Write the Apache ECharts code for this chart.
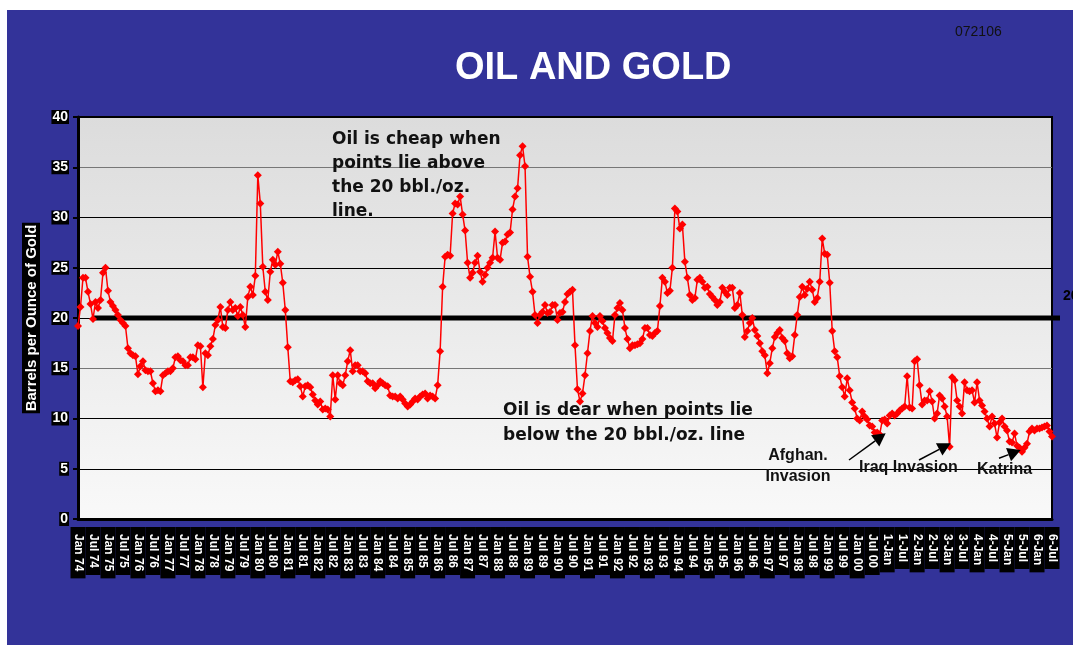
<!DOCTYPE html>
<html>
<head>
<meta charset="utf-8">
<title>Oil and Gold</title>
<script src="https://cdn.jsdelivr.net/npm/echarts@6/dist/echarts.min.js"></script>
<style>
  html, body { margin: 0; padding: 0; background: #ffffff; }
  #chart { width: 1073px; height: 654px; }
</style>
</head>
<body>
<div id="chart"></div>
<script>
// Monthly ratio: barrels of oil per ounce of gold, Jan 1974 – Jul 2006
const ratio = [
  19.2, 21.1, 24.0, 24.0, 22.6, 21.4, 19.9, 21.6, 21.0, 21.8,
  24.5, 25.0, 22.7, 21.6, 21.2, 20.8, 20.3, 19.8, 19.5, 19.2,
  17.0, 16.5, 16.3, 16.2, 14.4, 15.2, 15.7, 14.8, 14.7, 14.7,
  13.5, 12.7, 12.8, 12.7, 14.3, 14.5, 14.7, 14.7, 15.0, 16.1,
  16.2, 15.8, 15.7, 15.3, 15.3, 16.1, 16.1, 15.9, 17.3, 17.2,
  13.1, 16.5, 16.3, 17.2, 17.9, 19.3, 19.8, 21.1, 19.1, 19.0,
  20.8, 21.6, 20.8, 21.0, 20.2, 21.1, 20.3, 19.1, 22.1, 23.1,
  22.3, 24.2, 34.2, 31.4, 25.1, 22.6, 21.8, 24.6, 25.8, 25.3,
  26.6, 25.4, 23.5, 20.8, 17.1, 13.7, 13.6, 13.8, 13.9, 13.2,
  12.2, 13.2, 13.3, 13.1, 12.4, 11.8, 11.4, 11.7, 10.9, 11.0,
  10.9, 10.2, 14.3, 11.9, 14.3, 13.5, 13.3, 14.3, 15.7, 16.8,
  14.7, 15.3, 15.3, 14.7, 14.7, 14.5, 13.7, 13.5, 13.5, 13.0,
  13.3, 13.7, 13.5, 13.3, 13.2, 12.3, 12.2, 12.2, 12.0, 12.2,
  11.9, 11.5, 11.2, 11.4, 11.7, 12.0, 11.9, 12.2, 12.4, 12.5,
  12.0, 12.3, 12.2, 12.0, 13.3, 16.7, 23.1, 26.1, 26.3, 26.2,
  30.4, 31.4, 31.3, 32.1, 30.3, 28.7, 25.5, 24.0, 24.5, 25.5,
  26.2, 24.6, 23.6, 24.3, 25.0, 25.5, 26.0, 28.6, 26.0, 25.8,
  27.5, 27.6, 28.3, 28.5, 30.8, 32.1, 32.9, 36.2, 37.1, 35.1,
  26.1, 24.1, 22.6, 20.3, 19.5, 20.3, 20.6, 21.3, 20.5, 20.6,
  21.3, 21.3, 19.8, 20.5, 20.6, 21.6, 22.4, 22.6, 22.8, 17.3,
  12.9, 11.7, 12.5, 14.3, 16.5, 18.7, 20.2, 19.5, 19.1, 20.2,
  19.7, 19.0, 18.5, 18.0, 17.7, 20.3, 21.0, 21.5, 20.8, 19.0,
  17.9, 17.0, 17.3, 17.3, 17.4, 17.5, 17.9, 19.0, 19.0, 18.3,
  18.2, 18.5, 18.7, 21.2, 24.0, 23.6, 22.5, 22.7, 25.0, 30.9,
  30.6, 28.9, 29.3, 25.6, 24.0, 22.3, 21.8, 22.0, 23.8, 24.0,
  23.6, 23.0, 23.1, 22.4, 22.1, 21.8, 21.3, 21.6, 23.0, 22.6,
  22.3, 23.0, 23.0, 21.0, 21.3, 22.5, 20.3, 18.1, 18.7, 19.5,
  20.0, 18.8, 18.2, 17.5, 16.7, 16.3, 14.5, 15.5, 17.0, 18.1,
  18.5, 18.8, 18.0, 17.7, 16.5, 16.0, 16.2, 18.3, 20.3, 22.1,
  23.1, 22.3, 22.9, 23.6, 22.8, 21.6, 22.0, 23.6, 27.9, 26.4,
  26.3, 23.5, 18.7, 16.7, 16.1, 14.2, 13.1, 12.2, 14.0, 12.8,
  11.6, 11.0, 10.0, 9.8, 10.7, 10.2, 9.9, 9.3, 9.2, 8.6,
  8.6, 8.4, 9.8, 9.9, 9.5, 10.3, 10.5, 10.3, 10.5, 10.8,
  11.0, 11.2, 14.2, 11.1, 11.0, 15.7, 15.9, 13.3, 11.4, 11.8,
  11.8, 12.7, 11.7, 10.0, 10.5, 12.3, 12.0, 11.2, 10.2, 7.2,
  14.1, 13.8, 11.8, 11.2, 10.5, 13.6, 12.8, 12.7, 12.8, 11.6,
  13.6, 11.8, 11.3, 10.7, 10.0, 9.2, 10.2, 9.5, 8.1, 9.6,
  10.0, 9.2, 8.8, 7.7, 7.6, 8.5, 7.3, 7.1, 6.7, 7.1,
  7.5, 8.7, 9.0, 8.8, 9.0, 9.0, 9.1, 9.2, 9.3, 8.7,
  8.2
];

// One tick label every six months
const tickLabels = [
  'Jan 74','Jul 74','Jan 75','Jul 75','Jan 76','Jul 76','Jan 77','Jul 77',
  'Jan 78','Jul 78','Jan 79','Jul 79','Jan 80','Jul 80','Jan 81','Jul 81',
  'Jan 82','Jul 82','Jan 83','Jul 83','Jan 84','Jul 84','Jan 85','Jul 85',
  'Jan 86','Jul 86','Jan 87','Jul 87','Jan 88','Jul 88','Jan 89','Jul 89',
  'Jan 90','Jul 90','Jan 91','Jul 91','Jan 92','Jul 92','Jan 93','Jul 93',
  'Jan 94','Jul 94','Jan 95','Jul 95','Jan 96','Jul 96','Jan 97','Jul 97',
  'Jan 98','Jul 98','Jan 99','Jul 99','Jan 00','Jul 00',
  '1-Jan','1-Jul','2-Jan','2-Jul','3-Jan','3-Jul','4-Jan','4-Jul',
  '5-Jan','5-Jul','6-Jan','6-Jul'
];

// Reference level: 20 barrels per ounce, drawn from Jul 74 onward
const refLevel = 20;
const refStartMonth = 6;

// Monthly categories, 1974-01 onward
const months = [];
for (let i = 0; i < ratio.length; i++) {
  const y = 1974 + Math.floor(i / 12);
  const m = (i % 12) + 1;
  months.push(y + '-' + (m < 10 ? '0' + m : m));
}

const chart = echarts.init(document.getElementById('chart'), null, { renderer: 'canvas' });

const FONT = 'Liberation Sans, Arial, sans-serif';

chart.setOption({
  animation: false,
  backgroundColor: '#333399',
  title: {
    text: 'OIL AND GOLD',
    left: 450,
    top: 45,
    textStyle: { color: '#ffffff', fontSize: 38, fontWeight: 'bold', fontFamily: FONT }
  },
  grid: {
    left: 78,
    top: 117,
    width: 974,
    height: 402,
    show: true,
    borderColor: '#000000',
    borderWidth: 2,
    backgroundColor: new echarts.graphic.LinearGradient(0, 0, 0, 1, [
      { offset: 0, color: '#dcdcdc' },
      { offset: 1, color: '#f9f9f9' }
    ])
  },
  xAxis: {
    type: 'category',
    data: months,
    boundaryGap: false,
    axisLine: { show: true, lineStyle: { color: '#000000', width: 3 } },
    axisTick: { show: false },
    splitLine: { show: false },
    axisLabel: {
      interval: 5,
      rotate: -90,
      margin: 8,
      color: '#ffffff',
      fontFamily: FONT,
      fontWeight: 'bold',
      fontSize: 12,
      lineHeight: 13,
      backgroundColor: '#000000',
      padding: [1, 7, 1, 7],
      formatter: function (value, index) { return tickLabels[index / 6] || ''; }
    }
  },
  yAxis: {
    type: 'value',
    min: 0,
    max: 40,
    interval: 5,
    name: 'Barrels per Ounce of Gold',
    nameLocation: 'middle',
    nameGap: 38,
    nameRotate: 90,
    nameTextStyle: {
      color: '#ffffff', fontFamily: FONT, fontWeight: 'bold', fontSize: 15,
      backgroundColor: '#000000', padding: [2, 2, 1, 2]
    },
    axisLine: { show: true, lineStyle: { color: '#000000', width: 3 } },
    axisTick: { show: true, length: 5, lineStyle: { color: '#000000', width: 2 } },
    axisLabel: {
      color: '#ffffff', fontFamily: FONT, fontWeight: 'bold', fontSize: 14,
      backgroundColor: '#000000', padding: [0, 1, 0, 1], margin: 9
    },
    splitLine: {
      show: true,
      lineStyle: {
        width: 1,
        color: ['#000000', '#000000', '#000000', '#777777', '#000000', '#000000', '#000000', '#777777', '#000000']
      }
    }
  },
  series: [{
    name: 'Barrels per Ounce of Gold',
    type: 'line',
    data: ratio,
    z: 3,
    symbol: 'diamond',
    symbolSize: 8,
    showAllSymbol: true,
    lineStyle: { color: '#ff0000', width: 1.5 },
    itemStyle: { color: '#ff0000' }
  }]
});

// Pixel positions of the reference level, taken from the chart's own scales
const refA = chart.convertToPixel({ xAxisIndex: 0, yAxisIndex: 0 }, [refStartMonth, refLevel]);
const refB = chart.convertToPixel({ xAxisIndex: 0, yAxisIndex: 0 }, [ratio.length - 1, refLevel]);

function arrow(tail, tip, len, half) {
  const dx = tip[0] - tail[0], dy = tip[1] - tail[1];
  const d = Math.sqrt(dx * dx + dy * dy);
  const ux = dx / d, uy = dy / d;
  const bx = tip[0] - ux * len, by = tip[1] - uy * len;
  return [
    { type: 'line', z: 10, shape: { x1: tail[0], y1: tail[1], x2: bx, y2: by },
      style: { stroke: '#000000', lineWidth: 1.5 } },
    { type: 'polygon', z: 10,
      shape: { points: [tip, [bx - uy * half, by + ux * half], [bx + uy * half, by - ux * half]] },
      style: { fill: '#000000' } }
  ];
}

const noteFont = 'bold 17px "DejaVu Sans", sans-serif';
const tagFont = 'bold 16px "Liberation Sans", Arial, sans-serif';

chart.setOption({
  graphic: [
    // page margins
    { type: 'rect', z: 20, shape: { x: 0, y: 0, width: 7, height: 654 }, style: { fill: '#ffffff' } },
    { type: 'rect', z: 20, shape: { x: 0, y: 0, width: 1073, height: 10 }, style: { fill: '#ffffff' } },
    { type: 'rect', z: 20, shape: { x: 0, y: 645, width: 1073, height: 9 }, style: { fill: '#ffffff' } },
    // reference line at 20 bbl./oz.
    { type: 'line', z: 1, shape: { x1: refA[0] - 1, y1: refA[1], x2: refB[0] + 8, y2: refB[1] },
      style: { stroke: '#000000', lineWidth: 5 } },
    { type: 'text', z: 10, style: { x: refB[0] + 11, y: refA[1] - 29, text: '20',
      font: 'bold 14px "Liberation Sans", Arial, sans-serif', fill: '#000000' } },
    { type: 'text', z: 10, style: { x: 955, y: 25, text: '072106',
      font: '14px "Liberation Sans", Arial, sans-serif', fill: '#111111' } },
    { type: 'text', z: 10, style: { x: 332, y: 128, text: 'Oil is cheap when\npoints lie above\nthe 20 bbl./oz.\nline.',
      font: noteFont, lineHeight: 24, fill: '#111111' } },
    { type: 'text', z: 10, style: { x: 503, y: 398, text: 'Oil is dear when points lie\nbelow the 20 bbl./oz. line',
      font: noteFont, lineHeight: 25, fill: '#111111' } },
    { type: 'text', z: 10, style: { x: 798, y: 445, text: 'Afghan.\nInvasion', align: 'center',
      font: tagFont, lineHeight: 21, fill: '#111111' } },
    { type: 'text', z: 10, style: { x: 859, y: 460, text: 'Iraq Invasion', font: tagFont, fill: '#111111' } },
    { type: 'text', z: 10, style: { x: 977, y: 462, text: 'Katrina', font: tagFont, fill: '#111111' } }
  ]
    .concat(arrow([849, 460], [885.7, 433.3], 13, 7))
    .concat(arrow([919, 460], [950.7, 443.3], 13, 7))
    .concat(arrow([999, 458.3], [1020.7, 450], 13, 7))
});
</script>
</body>
</html>
